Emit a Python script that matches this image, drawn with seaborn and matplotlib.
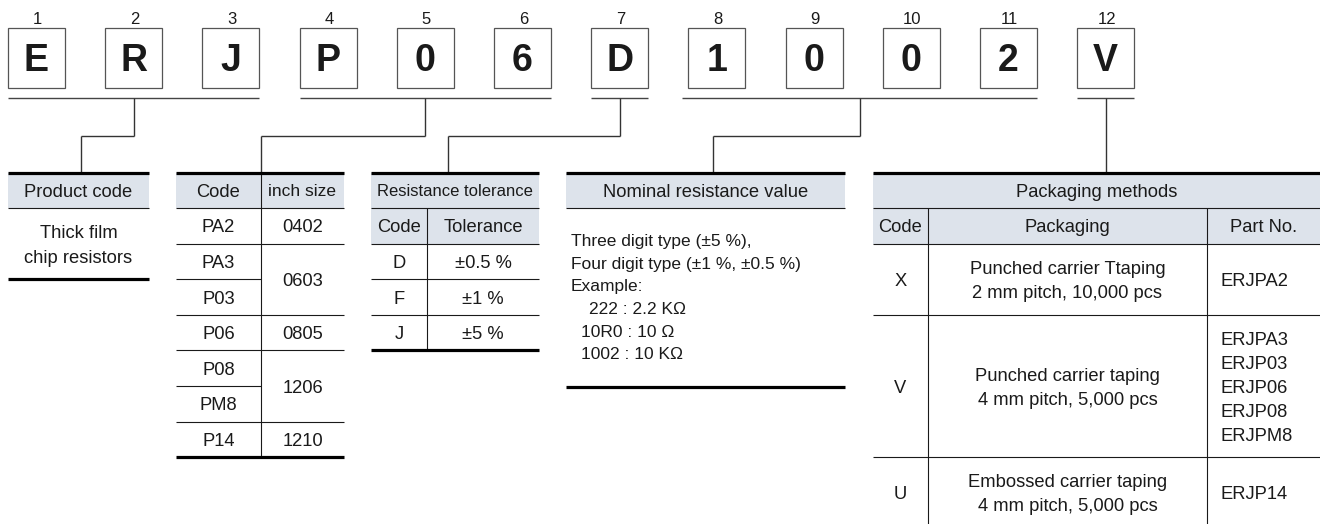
import matplotlib
matplotlib.use("Agg")
import matplotlib.pyplot as plt
from matplotlib.patches import Rectangle
import seaborn as sns

# Part number characters and their positions
part_chars = list("ERJP06D1002V")
positions = [str(i) for i in range(1, 13)]
# groups of boxes that point to one table (first, last index)
groups = [(0, 2), (3, 5), (6, 6), (7, 10), (11, 11)]

# Product code table
product_header = "Product code"
product_text = ["Thick film", "chip resistors"]

# Size table
size_header = ["Code", "inch size"]
size_codes = ["PA2", "PA3", "P03", "P06", "P08", "PM8", "P14"]
inch_sizes = ["0402", "0603", "0805", "1206", "1210"]
inch_span = [1, 2, 1, 2, 1]

# Tolerance table
tol_title = "Resistance tolerance"
tol_header = ["Code", "Tolerance"]
tol_codes = ["D", "F", "J"]
tol_values = ["±0.5 %", "±1 %", "±5 %"]

# Nominal resistance value
nominal_title = "Nominal resistance value"
nominal_lines = ["Three digit type (±5 %),", "Four digit type (±1 %, ±0.5 %)", "Example:"]
nominal_examples = ["222 : 2.2 KΩ", "10R0 : 10 Ω", "1002 : 10 KΩ"]

# Packaging table
pack_title = "Packaging methods"
pack_header = ["Code", "Packaging", "Part No."]
pack_codes = ["X", "V", "U"]
pack_desc = [["Punched carrier Ttaping", "2 mm pitch, 10,000 pcs"],
             ["Punched carrier taping", "4 mm pitch, 5,000 pcs"],
             ["Embossed carrier taping", "4 mm pitch, 5,000 pcs"]]
pack_parts = [["ERJPA2"], ["ERJPA3", "ERJP03", "ERJP06", "ERJP08", "ERJPM8"], ["ERJP14"]]
pack_span = [2, 4, 2]

sns.set_style("white")
plt.rcParams["font.family"] = ["Liberation Sans", "DejaVu Sans"]

SHADE = "#dde3eb"
INK = "#1a1a1a"
FS = 13.2
R = 35.6      # row height in px
TOP = 173     # table top
HEAD = 208    # header bottom

fig = plt.figure(figsize=(13.2, 5.24), dpi=100)
ax = fig.add_axes([0, 0, 1, 1])
ax.set_xlim(0, 1320)
ax.set_ylim(524, 0)
ax.axis("off")


def hline(x0, x1, y, lw=0.8, color=INK):
    ax.plot([x0, x1], [y, y], color=color, lw=lw, solid_capstyle="butt")


def vline(x, y0, y1, lw=0.8, color=INK):
    ax.plot([x, x], [y0, y1], color=color, lw=lw, solid_capstyle="butt")


def shade(x0, x1, y0, y1):
    ax.add_patch(Rectangle((x0, y0), x1 - x0, y1 - y0, color=SHADE, lw=0, zorder=0))


def ctext(x, cy, s, fs=FS, ha="center", weight="normal"):
    # place text so the cap height is centred on cy
    base = cy + 0.358 * fs * 100 / 72
    ax.text(x, base, s, fontsize=fs, ha=ha, va="baseline", color=INK, fontweight=weight)


# boxes with the part number
box_left = [8 + i * 97.2 for i in range(12)]
bw = 57
for i, (ch, pos) in enumerate(zip(part_chars, positions)):
    x = box_left[i]
    ax.add_patch(Rectangle((x, 28), bw, 60, fill=False, ec="#555555", lw=0.9))
    ctext(x + bw / 2, 58, ch, fs=27, weight="bold")
    ctext(x + bw / 2 + 1, 18, pos, fs=12)

# brackets and connectors
table_x = [81, 261, 448, 713, None]
for (a, b), tx in zip(groups, table_x):
    x0, x1 = box_left[a], box_left[b] + bw
    if a == 7:
        x0 -= 6
    hline(x0, x1, 98, lw=1.0, color="#444444")
    mid = (x0 + x1) / 2
    if tx is None:
        vline(mid, 98, TOP, lw=1.0, color="#333333")
    else:
        vline(mid, 98, 136, lw=1.0, color="#333333")
        hline(min(mid, tx), max(mid, tx), 136, lw=1.0, color="#333333")
        vline(tx, 136, TOP, lw=1.0, color="#333333")

# Product code table
x0, x1 = 8, 149
shade(x0, x1, TOP, HEAD)
hline(x0, x1, TOP, lw=2.3, color="black")
hline(x0, x1, HEAD)
ctext((x0 + x1) / 2, 190, product_header)
for k, s in enumerate(product_text):
    ctext((x0 + x1) / 2, 231 + 25 * k, s)
hline(x0, x1, 279, lw=2.3, color="black")

# Size table
x0, xm, x1 = 176, 261, 344
shade(x0, x1, TOP, HEAD)
ctext((x0 + xm) / 2, 190, size_header[0])
ctext((xm + x1) / 2, 190, size_header[1], fs=12.5)
for k, s in enumerate(size_codes):
    ctext((x0 + xm) / 2, HEAD + R * (k + 0.5), s)
    hline(x0, xm, HEAD + R * k)
row = 0
for s, n in zip(inch_sizes, inch_span):
    hline(xm, x1, HEAD + R * row)
    ctext((xm + x1) / 2, HEAD + R * (row + n / 2), s)
    row += n
vline(xm, TOP, HEAD + R * len(size_codes))
hline(x0, x1, TOP, lw=2.3, color="black")
hline(x0, x1, HEAD + R * len(size_codes), lw=2.3, color="black")

# Tolerance table
x0, xm, x1 = 371, 427, 539
shade(x0, x1, TOP, HEAD + R)
ctext((x0 + x1) / 2, 190, tol_title, fs=12)
ctext((x0 + xm) / 2, HEAD + R / 2, tol_header[0])
ctext((xm + x1) / 2, HEAD + R / 2, tol_header[1])
for k, (c, v) in enumerate(zip(tol_codes, tol_values)):
    y = HEAD + R * (k + 1)
    hline(x0, x1, y)
    ctext((x0 + xm) / 2, y + R / 2, c)
    ctext((xm + x1) / 2, y + R / 2, v)
hline(x0, x1, HEAD)
vline(xm, HEAD, HEAD + R * 4)
hline(x0, x1, TOP, lw=2.3, color="black")
hline(x0, x1, HEAD + R * 4, lw=2.3, color="black")

# Nominal resistance value
x0, x1 = 566, 845
shade(x0, x1, TOP, HEAD)
ctext((x0 + x1) / 2, 190, nominal_title)
hline(x0, x1, HEAD)
for k, s in enumerate(nominal_lines):
    ctext(571, 240 + 22.6 * k, s, fs=12.5, ha="left")
for k, (s, ex) in enumerate(zip(nominal_examples, [589, 581, 581])):
    ctext(ex, 308 + 22.6 * k, s, fs=12.5, ha="left")
hline(x0, x1, TOP, lw=2.3, color="black")
hline(x0, x1, 387, lw=2.3, color="black")

# Packaging table
x0, xa, xb, x1 = 873, 928, 1207, 1320
shade(x0, x1, TOP, HEAD + R)
ctext((x0 + x1) / 2, 190, pack_title)
hline(x0, x1, HEAD)
for s, (a, b) in zip(pack_header, [(x0, xa), (xa, xb), (xb, x1)]):
    ctext((a + b) / 2, HEAD + R / 2, s)
vline(xa, HEAD, 524)
vline(xb, HEAD, 524)
row = 1
for c, desc, parts, n in zip(pack_codes, pack_desc, pack_parts, pack_span):
    y = HEAD + R * row
    hline(x0, x1, y)
    cy = y + R * n / 2
    ctext((x0 + xa) / 2, cy, c)
    for k, s in enumerate(desc):
        ctext((xa + xb) / 2, cy + 24 * (k - (len(desc) - 1) / 2), s)
    for k, s in enumerate(parts):
        ctext(1221, cy + 24 * (k - (len(parts) - 1) / 2), s, ha="left")
    row += n
hline(x0, x1, TOP, lw=2.3, color="black")

fig.savefig("out.png", dpi=100)
